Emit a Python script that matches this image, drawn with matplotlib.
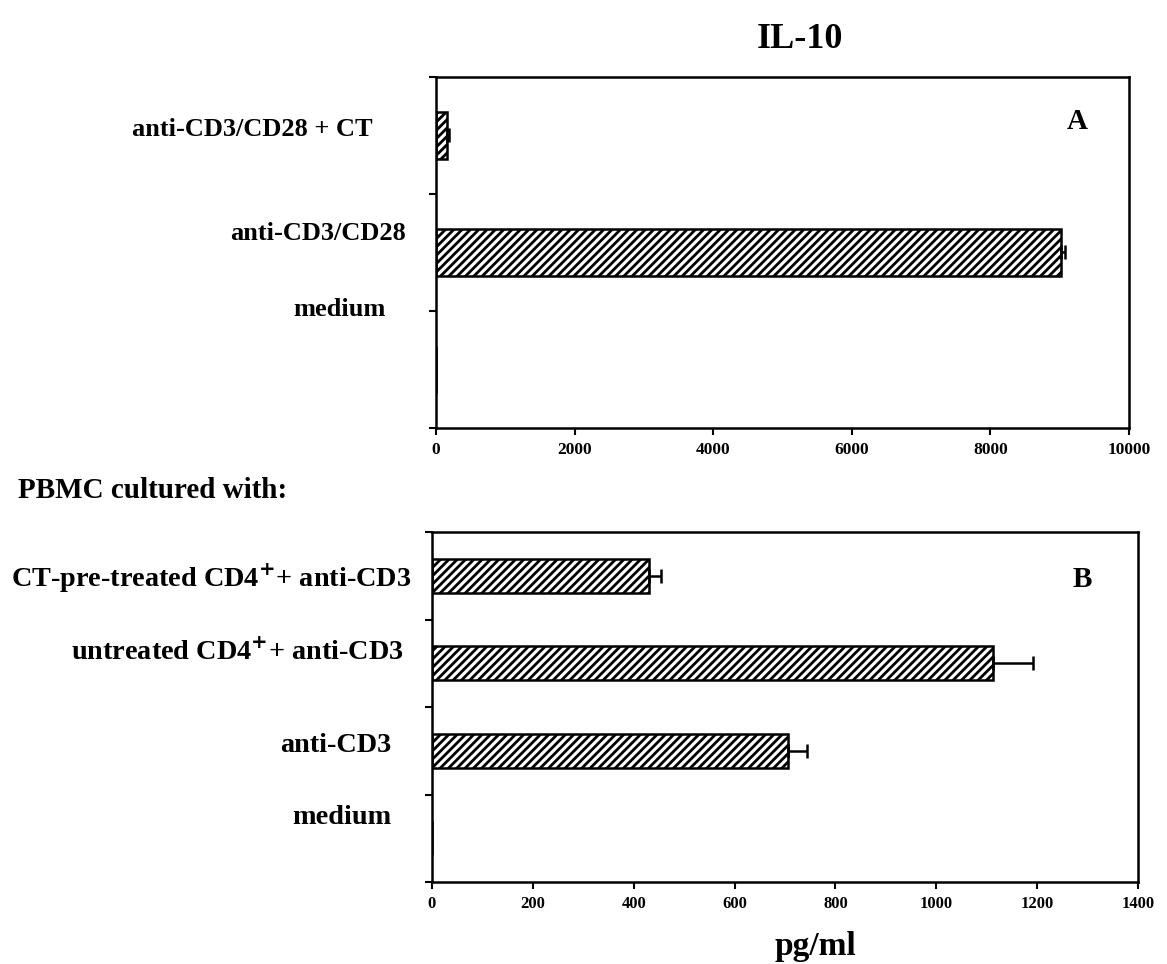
import matplotlib.pyplot as plt
import numpy as np

plt.rcParams['font.family'] = ['Liberation Serif', 'DejaVu Serif']
plt.rcParams['font.weight'] = 'bold'
plt.rcParams['hatch.linewidth'] = 2.0
plt.rcParams['hatch.color'] = 'black'

# panel A: IL-10 (pg/ml), bottom to top
cats_a = ["medium", "anti-CD3/CD28", "anti-CD3/CD28 + CT"]
vals_a = [0, 9020, 155]
errs_a = [0, 60, 30]

# panel B
cats_b = ["medium", "anti-CD3", "untreated CD4$^{+}$+ anti-CD3", "CT-pre-treated CD4$^{+}$+ anti-CD3"]
vals_b = [0, 706, 1113, 430]
errs_b = [0, 38, 79, 24]

xticks_a = [0, 2000, 4000, 6000, 8000, 10000]
xticks_b = [0, 200, 400, 600, 800, 1000, 1200, 1400]

W, H = 1167, 964
fig = plt.figure(figsize=(W / 100, H / 100), dpi=100)


def axes_px(left, top, right, bottom):
    return fig.add_axes([left / W, 1 - bottom / H, (right - left) / W, (bottom - top) / H])


def draw_panel(ax, vals, errs, xmax, xticks, height, tsize):
    n = len(vals)
    y = np.arange(n)
    ax.barh(y, vals, height=height, color='white', edgecolor='black',
            hatch='////', linewidth=1.8, zorder=2)
    for yi, v, e in zip(y, vals, errs):
        if e > 0:
            ax.errorbar(v, yi, xerr=[[0], [e]], fmt='none', ecolor='black',
                        elinewidth=1.8, capsize=4.7, capthick=1.8, zorder=3)
    ax.set_xlim(0, xmax)
    ax.set_ylim(-0.5, n - 0.5)
    ax.set_xticks(xticks)
    ax.set_xticklabels([str(t) for t in xticks], fontsize=tsize, fontweight='bold')
    ax.set_yticks(np.arange(n + 1) - 0.5)
    ax.set_yticklabels([])
    ax.tick_params(axis='both', direction='out', length=5, width=1.5, pad=5)
    for s in ax.spines.values():
        s.set_linewidth(1.8)


ax_a = axes_px(436, 77, 1129, 428)
draw_panel(ax_a, vals_a, errs_a, 10000, xticks_a, 0.41, 12.5)
ax_b = axes_px(432, 532, 1138, 882)
draw_panel(ax_b, vals_b, errs_b, 1400, xticks_b, 0.39, 12)

# category labels (placed as free text like the original figure)
for txt, x, yy in zip(cats_a[::-1], [252, 318, 339], [130, 233, 310]):
    fig.text(x / W, 1 - yy / H, txt, fontsize=19, fontweight='bold', ha='center', va='center')
for txt, x, yy in zip(cats_b[::-1], [211, 237, 336, 342], [578, 652, 745, 818]):
    fig.text(x / W, 1 - yy / H, txt, fontsize=20.3, fontweight='bold', ha='center', va='center')

ax_a.text(0.926, 0.872, "A", transform=ax_a.transAxes, fontsize=21,
          fontweight='bold', ha='center', va='center')
ax_b.text(0.921, 0.863, "B", transform=ax_b.transAxes, fontsize=21,
          fontweight='bold', ha='center', va='center')

fig.text(800 / W, 1 - 40 / H, "IL-10", fontsize=26, fontweight='bold', ha='center', va='center')
fig.text(18 / W, 1 - 491 / H, "PBMC cultured with:", fontsize=21, fontweight='bold', ha='left', va='center')
fig.text(815 / W, 1 - 947 / H, "pg/ml", fontsize=24, fontweight='bold', ha='center', va='center')

fig.savefig("out.png", dpi=100)
